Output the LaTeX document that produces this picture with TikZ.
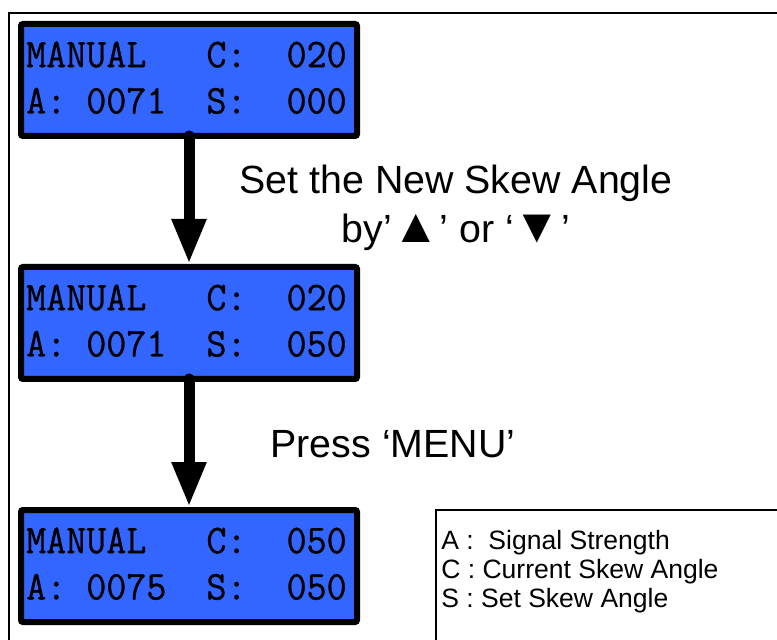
\documentclass[tikz,border=0pt]{standalone}
\usepackage{fontspec}
\setmainfont{Liberation Sans}
\newfontfamily\lcdfont[FakeBold=0.8]{Latin Modern Mono}
\usetikzlibrary{positioning,calc,arrows.meta}
\definecolor{lcdblue}{RGB}{51,102,255}
\newcommand\bigtri[1]{{\fontsize{36}{36}\selectfont#1}}
\tikzset{
  lcdbox/.style={draw, line width=4.5pt, fill=lcdblue, rounded corners=1.5pt,
    minimum width=252pt, minimum height=84pt, inner sep=0pt, outer sep=0pt},
  lcdrow/.style={font=\fontsize{30.7}{30.7}\selectfont\lcdfont, anchor=base west,
    inner sep=0pt, xscale=0.95, transform shape},
  stepnote/.style={font=\fontsize{29.5}{35}\selectfont, anchor=base, inner sep=0pt},
  keynote/.style={font=\fontsize{19.9}{23}\selectfont, anchor=base west, inner sep=0pt},
  flow/.style={line width=8.25pt, line cap=round,
    -{Triangle[width=24pt,length=33.75pt]}, shorten >=2.25pt}
}
\begin{document}
\begin{tikzpicture}[x=0.75pt,y=0.75pt]
\path[use as bounding box, clip] (0,0) rectangle (777,639);
% frame
\draw[line width=1.5pt] (8.5,-10) rectangle (800,626);
% displays
\node[lcdbox] (d1) at (189,559) {};
\node[lcdbox, below=98.25pt of d1] (d2) {};
\node[lcdbox, below=98.25pt of d2] (d3) {};
\foreach \d/\ra/\rb in {d1/{MANUAL~~~C:~~020}/{A:~0071~~S:~~000},
                        d2/{MANUAL~~~C:~~020}/{A:~0071~~S:~~050},
                        d3/{MANUAL~~~C:~~050}/{A:~0075~~S:~~050}}{
  \node[lcdrow] (\d-top) at ($(\d.north west)+(5,-43.2)$) {\ra};
  \node[lcdrow] (\d-bot) at ($(\d.north west)+(5,-89.5)$) {\rb};
}
% steps
\draw[flow] (d1.south) -- (d2.north);
\draw[flow] (d2.south) -- (d3.north);
\node[stepnote] (set) at (456,445) {Set the New Skew Angle};
\node[stepnote] (setkeys) at (456,396) {by’\bigtri{▲}’ or ‘\bigtri{▼}’};
\node[stepnote] (press) at (393,182) {Press ‘MENU’};
% legend
\draw[line width=1.5pt] (436,129) rectangle (800,-10);
\node[keynote] (keya) at (441,89.5) {A :~ Signal Strength};
\node[keynote] (keyc) at (441,60.5) {C : Current Skew Angle};
\node[keynote] (keys) at (441,31.5) {S : Set Skew Angle};
\end{tikzpicture}
\end{document}
